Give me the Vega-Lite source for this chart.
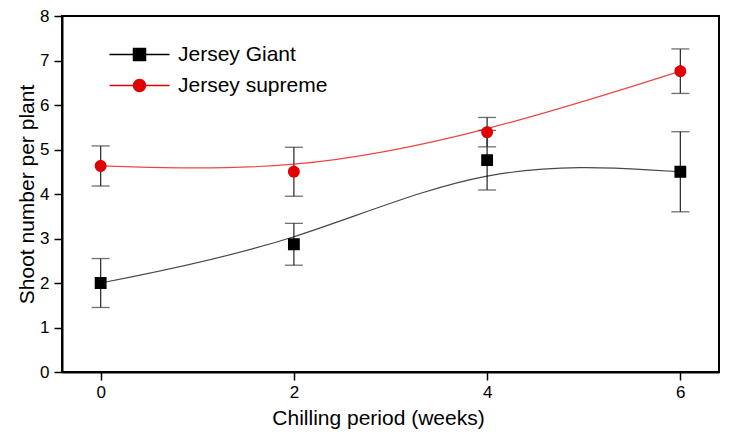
{
  "$schema": "https://vega.github.io/schema/vega-lite/v6.json",
  "width": 657,
  "height": 356,
  "autosize": "none",
  "padding": {"left": 62, "top": 16, "right": 12, "bottom": 63},
  "background": "white",
  "config": {
    "font": "Liberation Sans",
    "view": {"stroke": "black", "strokeWidth": 2},
    "axis": {
      "grid": false,
      "domainColor": "black",
      "domainWidth": 2,
      "tickColor": "black",
      "tickWidth": 1.5,
      "tickSize": 8,
      "labelFontSize": 17,
      "labelColor": "black",
      "labelFont": "Liberation Sans",
      "titleFont": "Liberation Sans",
      "titleFontSize": 21,
      "titleFontWeight": "normal",
      "titleColor": "black"
    }
  },
  "data": {
    "values": [
      {"week": 0, "shoots": 2.0, "err": 0.55, "cultivar": "Jersey Giant"},
      {"week": 2, "shoots": 2.87, "err": 0.47, "cultivar": "Jersey Giant"},
      {"week": 4, "shoots": 4.76, "err": 0.67, "cultivar": "Jersey Giant"},
      {"week": 6, "shoots": 4.5, "err": 0.9, "cultivar": "Jersey Giant"},
      {"week": 0, "shoots": 4.63, "err": 0.45, "cultivar": "Jersey supreme"},
      {"week": 2, "shoots": 4.5, "err": 0.55, "cultivar": "Jersey supreme"},
      {"week": 4, "shoots": 5.39, "err": 0.33, "cultivar": "Jersey supreme"},
      {"week": 6, "shoots": 6.76, "err": 0.5, "cultivar": "Jersey supreme"}
    ]
  },
  "encoding": {
    "x": {
      "field": "week",
      "type": "quantitative",
      "scale": {"domain": [-0.4, 6.4], "nice": false, "zero": false},
      "axis": {"values": [0, 2, 4, 6], "title": "Chilling period (weeks)", "titlePadding": 7, "titleX": 316, "labelPadding": 4}
    }
  },
  "layer": [
    {
      "mark": {"type": "errorbar", "color": "#333333", "thickness": 1.3, "ticks": {"size": 18, "thickness": 1.3, "color": "#333333"}},
      "encoding": {
        "y": {"field": "shoots", "type": "quantitative", "scale": {"domain": [0, 8], "nice": false}, "title": "Shoot number per plant"},
        "yError": {"field": "err"}
      }
    },
    {
      "mark": {"type": "line", "interpolate": "basis", "strokeWidth": 1.2, "opacity": 0.72},
      "encoding": {
        "y": {"field": "shoots", "type": "quantitative"},
        "color": {"field": "cultivar", "type": "nominal"}
      }
    },
    {
      "mark": {"type": "point", "filled": true, "opacity": 1, "size": 140},
      "encoding": {
        "y": {
          "field": "shoots",
          "type": "quantitative",
          "axis": {"values": [0, 1, 2, 3, 4, 5, 6, 7, 8], "title": "Shoot number per plant", "titlePadding": 2, "labelPadding": 5}
        },
        "shape": {
          "field": "cultivar",
          "type": "nominal",
          "scale": {"domain": ["Jersey Giant", "Jersey supreme"], "range": ["M-5,0H5M-1,-1H1V1H-1Z", "M-5,0H5M-1,0A1,1 0 1,0 1,0A1,1 0 1,0 -1,0Z"]},
          "legend": {
            "title": null,
            "orient": "none",
            "legendX": 67,
            "legendY": 28,
            "padding": 0,
            "symbolSize": 144,
            "labelFontSize": 21,
            "labelFont": "Liberation Sans",
            "labelColor": "black",
            "labelOffset": 28,
            "rowPadding": 9,
            "encoding": {
              "symbols": {
                "update": {
                  "stroke": {"signal": "datum.value === 'Jersey Giant' ? '#4a4a4a' : '#d04848'"},
                  "strokeWidth": {"value": 1},
                  "opacity": {"value": 1},
                  "fillOpacity": {"value": 1},
                  "strokeOpacity": {"value": 1}
                }
              }
            }
          }
        },
        "color": {
          "field": "cultivar",
          "type": "nominal",
          "scale": {"domain": ["Jersey Giant", "Jersey supreme"], "range": ["#000000", "#e00000"]},
          "legend": {
            "title": null,
            "orient": "none",
            "legendX": 67,
            "legendY": 28,
            "padding": 0,
            "symbolSize": 144,
            "labelFontSize": 21,
            "labelFont": "Liberation Sans",
            "labelColor": "black",
            "labelOffset": 28,
            "rowPadding": 9,
            "encoding": {
              "symbols": {
                "update": {
                  "stroke": {"signal": "datum.value === 'Jersey Giant' ? '#4a4a4a' : '#d04848'"},
                  "strokeWidth": {"value": 1},
                  "opacity": {"value": 1},
                  "fillOpacity": {"value": 1},
                  "strokeOpacity": {"value": 1}
                }
              }
            }
          }
        }
      }
    }
  ]
}
